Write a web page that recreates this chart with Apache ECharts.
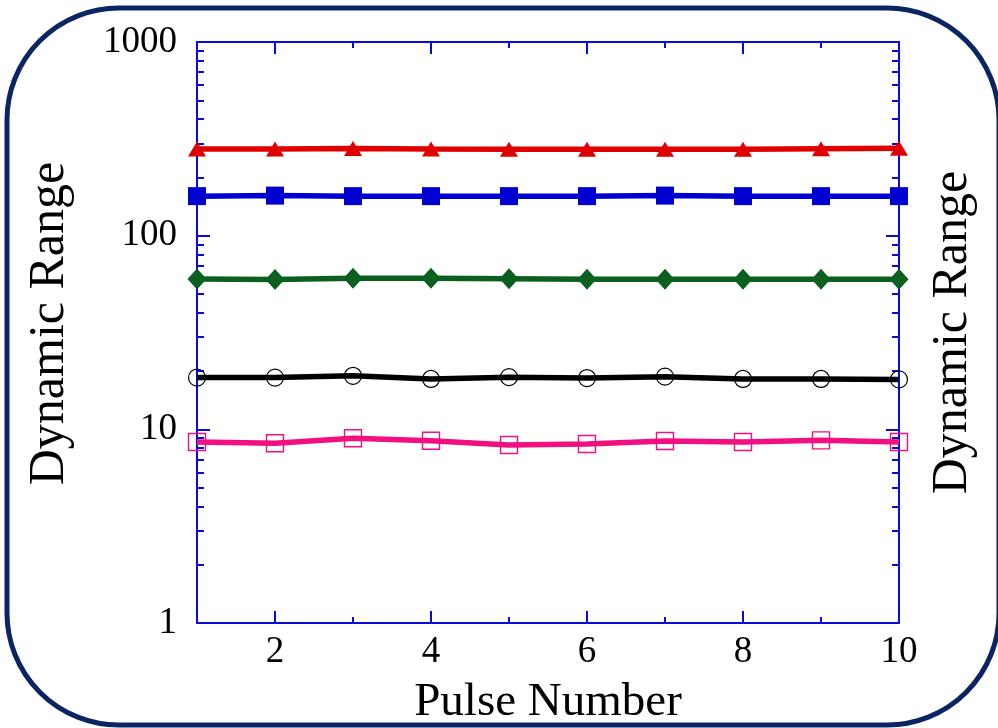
<!DOCTYPE html>
<html>
<head>
<meta charset="utf-8">
<script src="https://cdn.jsdelivr.net/npm/echarts@6/dist/echarts.min.js"></script>
<style>
html,body{margin:0;padding:0;background:#fff;}
#chart{width:998px;height:728px;}
</style>
</head>
<body>
<div id="chart"></div>
<script>
const pulses = [1,2,3,4,5,6,7,8,9,10];
const redTriangle = [280,280,282,280,279,279,279,279,281,283];
const blueSquare = [160,161,160,160,160,160,161,160,160,160];
const greenDiamond = [59.8,59.3,60.2,60.2,60.0,59.6,59.5,59.5,59.5,59.5];
const blackCircle = [18.5,18.5,18.9,18.2,18.6,18.4,18.7,18.2,18.2,18.1];
const pinkSquare = [8.6,8.47,8.99,8.73,8.3,8.4,8.7,8.6,8.77,8.6];

const xMajorTicks = [2,4,6,8,10];
const xMinorTicks = [3,5,7,9];
const yMinorTicks = [2,3,4,5,6,7,8,9,20,30,40,50,60,70,80,90,200,300,400,500,600,700,800,900];

const axisBlue = '#0a0ad8';
const fontFam = "'Liberation Serif', 'Times New Roman', serif";

function pairs(ys){ return pulses.map((x,i)=>[x, ys[i]]); }

function xAxisDef(pos, ticks, len, labels, extra){
  return Object.assign({
    type:'value', min:1, max:10, position:pos, gridIndex:0,
    axisLine:{show:true, onZero:false, lineStyle:{color:axisBlue, width:2}},
    axisTick:{show:true, inside:true, length:len, customValues:ticks, lineStyle:{color:axisBlue, width:2}},
    axisLabel:{show:labels, customValues:xMajorTicks, color:'#000', fontFamily:fontFam, fontSize:37, margin:11,
               formatter:function(v){return String(v);}},
    splitLine:{show:false}
  }, extra||{});
}
function yAxisDef(pos, ticks, len, labels, extra){
  const ax = {
    type:'log', logBase:10, min:1, max:1000, position:pos, gridIndex:0,
    axisLine:{show:true, onZero:false, lineStyle:{color:axisBlue, width:2}},
    axisTick:{show:true, inside:true, length:len, lineStyle:{color:axisBlue, width:2}},
    axisLabel:{show:labels, color:'#000', fontFamily:fontFam, fontSize:37, margin:20,
               formatter:function(v){return String(Math.round(v));}},
    splitLine:{show:false}
  };
  if (ticks) ax.axisTick.customValues = ticks;
  return Object.assign(ax, extra||{});
}

const xTitleStyle = {color:'#000', fontFamily:fontFam, fontSize:47};
const yTitleStyleL = {color:'#000', fontFamily:fontFam, fontSize:50, padding:[0,0,0,18]};
const yTitleStyleR = {color:'#000', fontFamily:fontFam, fontSize:50};

const option = {
  animation:false,
  backgroundColor:'#fff',
  grid:{left:197, right:99, top:42, bottom:105, containLabel:false, outerBoundsMode:'none'},
  xAxis:[
    xAxisDef('bottom', xMajorTicks, 12, true, {name:'Pulse Number', nameLocation:'middle', nameGap:56, nameTextStyle:xTitleStyle}),
    xAxisDef('bottom', xMinorTicks, 6, false),
    xAxisDef('top', xMajorTicks, 12, false),
    xAxisDef('top', xMinorTicks, 6, false)
  ],
  yAxis:[
    yAxisDef('left', null, 13, true, {name:'Dynamic Range', nameLocation:'middle', nameGap:122, nameRotate:90, nameTextStyle:yTitleStyleL}),
    yAxisDef('left', yMinorTicks, 7, false),
    yAxisDef('right', null, 13, false, {name:'Dynamic Range', nameLocation:'middle', nameGap:29, nameRotate:90, nameTextStyle:yTitleStyleR}),
    yAxisDef('right', yMinorTicks, 7, false)
  ],
  graphic:[{
    type:'rect', silent:true, z:100,
    shape:{x:7, y:8, width:992, height:717, r:112},
    style:{fill:'none', stroke:'#0b2562', lineWidth:5}
  }],
  series:[
    {type:'line', name:'red', data:pairs(redTriangle), clip:false, symbol:'triangle', symbolSize:[18,15],
     lineStyle:{color:'#e00000', width:5.5}, itemStyle:{color:'#e00000'}, z:5},
    {type:'line', name:'blue', data:pairs(blueSquare), clip:false, symbol:'rect', symbolSize:18,
     lineStyle:{color:'#0000d0', width:5.5}, itemStyle:{color:'#0000d0'}, z:5},
    {type:'line', name:'green', data:pairs(greenDiamond), clip:false, symbol:'diamond', symbolSize:[19,21],
     lineStyle:{color:'#0b6020', width:5.5}, itemStyle:{color:'#0b6020'}, z:5},
    {type:'line', name:'black', data:pairs(blackCircle), clip:false, symbol:'circle', symbolSize:17,
     lineStyle:{color:'#000', width:5.5}, itemStyle:{color:'rgba(0,0,0,0)', borderColor:'#000', borderWidth:1.2}, z:5},
    {type:'line', name:'pink', data:pairs(pinkSquare), clip:false, symbol:'rect', symbolSize:17,
     lineStyle:{color:'#f0107f', width:5.5}, itemStyle:{color:'rgba(0,0,0,0)', borderColor:'#f0107f', borderWidth:1.4}, z:5}
  ]
};

const chart = echarts.init(document.getElementById('chart'), null, {renderer:'canvas'});
chart.setOption(option);
</script>
</body>
</html>
